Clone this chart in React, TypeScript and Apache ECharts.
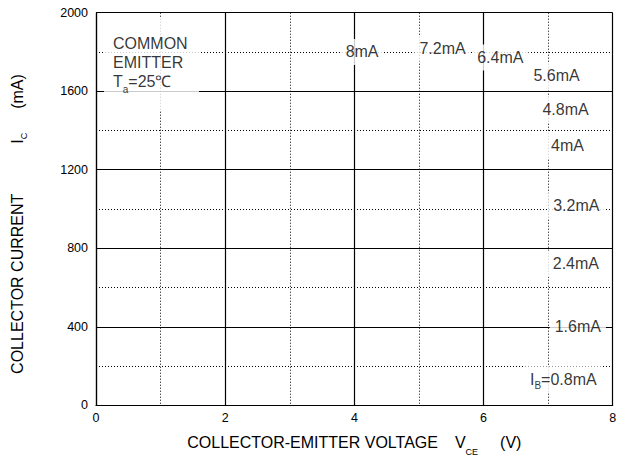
import React, { useEffect, useRef } from 'react';
import * as echarts from 'echarts';

// Axis ranges / ticks
const vceMin = 0;
const vceMax = 8;
const vceStep = 2;
const icMin = 0;
const icMax = 2000;
const icStep = 400;

// Base-current curve labels (placed at V_CE [V], I_C [mA])
const ibLabels = ['8mA', '7.2mA', '6.4mA', '5.6mA', '4.8mA', '4mA', '3.2mA', '2.4mA', '1.6mA', '{i|I}{b|B}=0.8mA'];
const ibLabelVce = [4.12, 5.365, 6.26, 7.13, 7.27, 7.3, 7.436, 7.43, 7.46, 7.235];
const ibLabelIc = [1800, 1818, 1772, 1678, 1508, 1326, 1018, 721, 402, 133];

// Condition note
const noteLines = ['COMMON', 'EMITTER', '{t|T}{s|a}{t|=25℃}'];
const noteVce = 0.124;
const noteIc = 1973;

const FONT = '"Liberation Sans", Arial, Helvetica, sans-serif';

export default function App() {
  const ref = useRef<HTMLDivElement>(null);
  useEffect(() => {
    if (!ref.current) return;
    const chart = echarts.init(ref.current, null, { renderer: 'svg' });
    const solid = { color: '#000', width: 1.2, type: 'solid' as const };
    const dotted = { color: '#000', width: 1, type: [1, 2] as any };
    chart.setOption({
      animation: false,
      backgroundColor: '#fff',
      textStyle: { fontFamily: FONT },
      grid: {
        left: 96,
        right: 4.3,
        top: 12.7,
        bottom: 53.7,
        containLabel: false,
        outerBoundsMode: 'none',
      },
      xAxis: {
        type: 'value',
        min: vceMin,
        max: vceMax,
        interval: vceStep,
        axisLine: { show: true, lineStyle: solid },
        axisTick: { show: false },
        axisLabel: { color: '#000', fontSize: 12.5, margin: 6, fontFamily: FONT, formatter: (v: number) => String(v) },
        splitLine: { show: true, lineStyle: solid },
        minorTick: { show: false, splitNumber: 2 },
        minorSplitLine: { show: true, lineStyle: dotted },
        name: '{m|COLLECTOR-EMITTER VOLTAGE}{v|V}{s|CE}{p|(V)}',
        nameLocation: 'middle',
        nameGap: 24,
        nameTextStyle: {
          color: '#000',
          fontFamily: FONT,
          fontSize: 16,
          rich: {
            m: { fontSize: 16, lineHeight: 20, color: '#000', fontFamily: FONT },
            v: { fontSize: 16, lineHeight: 20, color: '#000', fontFamily: FONT, padding: [0, 0, 0, 17] },
            s: { fontSize: 9, lineHeight: 1, color: '#000', fontFamily: FONT, padding: [18, 0, 0, 0] },
            p: { fontSize: 16, lineHeight: 20, color: '#000', fontFamily: FONT, padding: [0, 0, 0, 22] },
          },
        },
      },
      yAxis: {
        type: 'value',
        min: icMin,
        max: icMax,
        interval: icStep,
        axisLine: { show: true, lineStyle: solid },
        axisTick: { show: false },
        axisLabel: { color: '#000', fontSize: 12.5, margin: 8, fontFamily: FONT, formatter: (v: number) => String(v) },
        splitLine: { show: true, lineStyle: solid },
        minorTick: { show: false, splitNumber: 2 },
        minorSplitLine: { show: true, lineStyle: dotted },
        name: '{m|COLLECTOR CURRENT}{i|I}{s|C}{p|(mA)}',
        nameLocation: 'middle',
        nameRotate: 90,
        nameGap: 69,
        nameTextStyle: {
          color: '#000',
          fontFamily: FONT,
          fontSize: 16,
          padding: [0, 30, 0, 0],
          rich: {
            m: { fontSize: 16, lineHeight: 20, color: '#000', fontFamily: FONT },
            i: { fontSize: 16, lineHeight: 20, color: '#000', fontFamily: FONT, padding: [0, 0, 0, 50] },
            s: { fontSize: 9, lineHeight: 1, color: '#000', fontFamily: FONT, padding: [14, 0, 0, 0] },
            p: { fontSize: 16, lineHeight: 20, color: '#000', fontFamily: FONT, padding: [0, 0, 0, 24] },
          },
        },
      },
      series: [
        {
          type: 'scatter',
          silent: true,
          symbolSize: 0,
          data: ibLabelVce.map((v, i) => [v, ibLabelIc[i], ibLabels[i]]),
          label: {
            show: true,
            position: 'inside',
            formatter: (p: any) => p.value[2],
            color: '#000',
            fontFamily: FONT,
            fontSize: 16,
            lineHeight: 18,
            backgroundColor: '#fff',
            padding: [4, 5],
            rich: {
              i: { fontSize: 16, lineHeight: 18, color: '#000', fontFamily: FONT },
              b: { fontSize: 10, lineHeight: 1, color: '#000', fontFamily: FONT, padding: [13, 0, 0, 0] },
            },
          },
          emphasis: { disabled: true },
          z: 5,
        },
        {
          type: 'scatter',
          silent: true,
          symbolSize: 0,
          data: [[noteVce, noteIc]],
          label: {
            show: true,
            position: [0, 0],
            align: 'left',
            verticalAlign: 'top',
            formatter: noteLines.join('\n'),
            color: '#000',
            fontFamily: FONT,
            fontSize: 16,
            lineHeight: 19.3,
            backgroundColor: '#fff',
            padding: [15.6, 0, 19.5, 9],
            width: 86,
            rich: {
              t: { fontSize: 16, lineHeight: 19.3, color: '#000', fontFamily: FONT },
              s: { fontSize: 10, lineHeight: 1, color: '#000', fontFamily: FONT, padding: [16, 0, 0, 0] },
            },
          },
          emphasis: { disabled: true },
          z: 5,
        },
      ],
    });
    return () => chart.dispose();
  }, []);
  return (
    <div
      ref={ref}
      style={{ position: 'fixed', left: 0, top: 0, width: 617, height: 459, background: '#fff' }}
    />
  );
}
